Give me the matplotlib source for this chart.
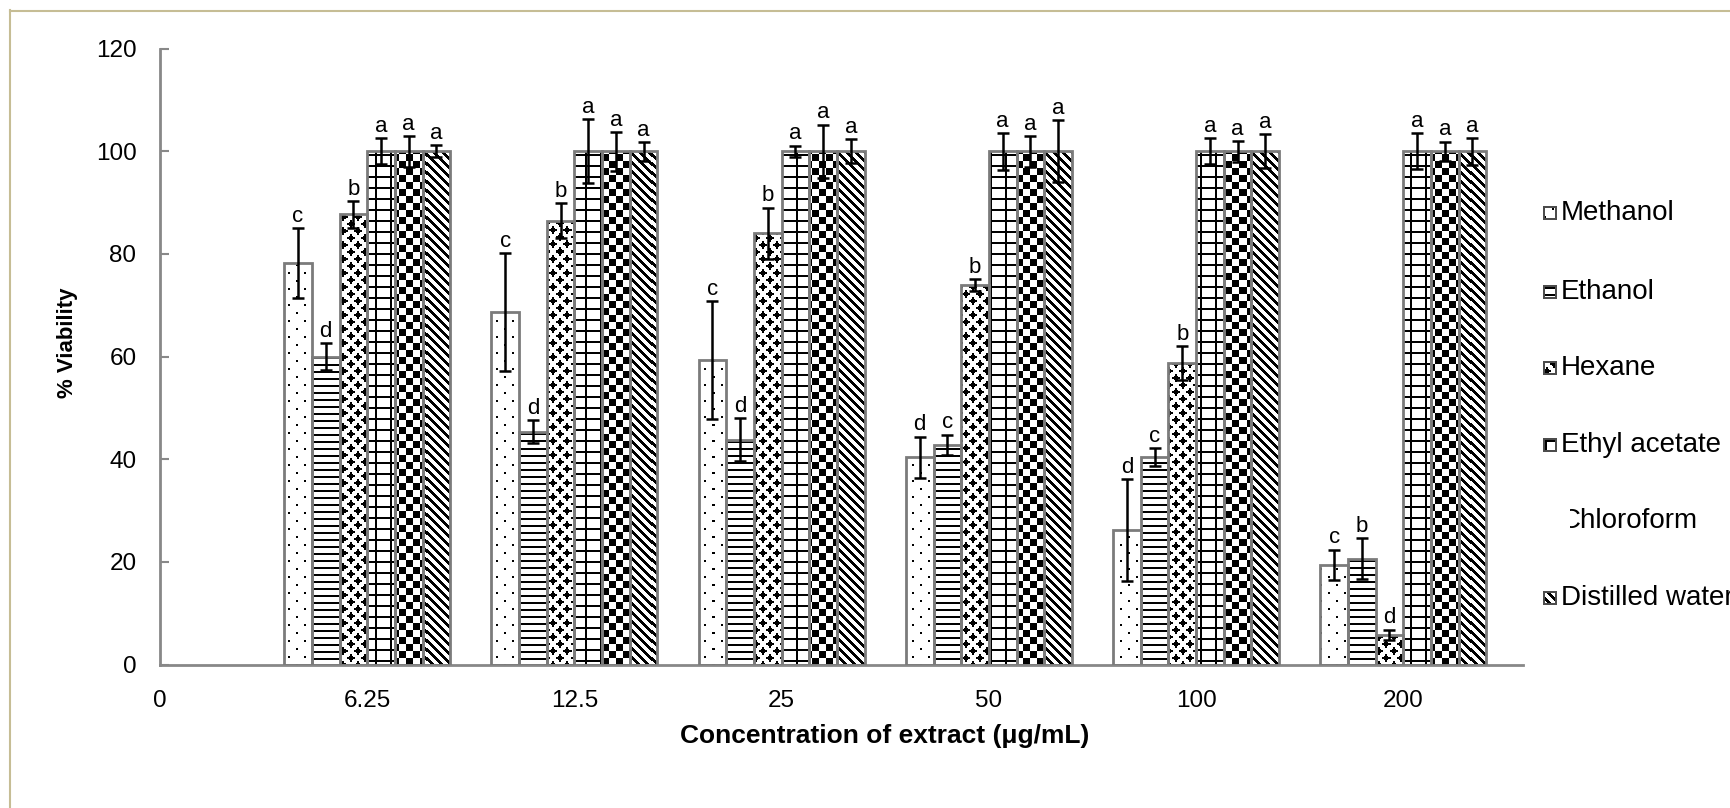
import numpy as np
import matplotlib
matplotlib.use("Agg")
import matplotlib.pyplot as plt
from matplotlib.lines import Line2D
from matplotlib.patches import Rectangle

plt.rcParams['font.family'] = ['Liberation Sans', 'DejaVu Sans']

W, H, DPI = 1731, 808, 100

# ---- data -------------------------------------------------------------
concentrations = ["0", "6.25", "12.5", "25", "50", "100", "200"]
solvents = ["Methanol", "Ethanol", "Hexane", "Ethyl acetate",
            "Chloroform", "Distilled water"]

methanol = [78.2, 68.7, 59.3, 40.4, 26.2, 19.4]
methanol_sd = [6.8, 11.5, 11.5, 4.0, 9.9, 3.0]
methanol_sig = ["c", "c", "c", "d", "d", "c"]

ethanol = [60.0, 45.4, 43.8, 42.8, 40.4, 20.6]
ethanol_sd = [2.6, 2.2, 4.2, 2.0, 1.8, 4.0]
ethanol_sig = ["d", "d", "d", "c", "c", "b"]

hexane = [87.7, 86.5, 84.0, 73.9, 58.8, 5.8]
hexane_sd = [2.6, 3.4, 5.0, 1.2, 3.3, 1.0]
hexane_sig = ["b", "b", "b", "b", "b", "d"]

ethyl_acetate = [100, 100, 100, 100, 100, 100]
ethyl_acetate_sd = [2.5, 6.2, 1.1, 3.6, 2.5, 3.5]
ethyl_acetate_sig = ["a", "a", "a", "a", "a", "a"]

chloroform = [100, 100, 100, 100, 100, 100]
chloroform_sd = [3.0, 3.8, 5.2, 3.0, 2.0, 1.9]
chloroform_sig = ["a", "a", "a", "a", "a", "a"]

water = [100, 100, 100, 100, 100, 100]
water_sd = [1.2, 1.8, 2.3, 6.0, 3.3, 2.6]
water_sig = ["a", "a", "a", "a", "a", "a"]

series_values = [methanol, ethanol, hexane, ethyl_acetate, chloroform, water]
series_sd = [methanol_sd, ethanol_sd, hexane_sd, ethyl_acetate_sd,
             chloroform_sd, water_sd]
series_sig = [methanol_sig, ethanol_sig, hexane_sig, ethyl_acetate_sig,
              chloroform_sig, water_sig]


# ---- fill textures (pixel based, c = column, r = row from top) ---------
def tex_dots(c, r):
    a = ((c % 16) < 2) & ((r % 16) < 2)
    b = (((c + 8) % 16) < 2) & (((r + 8) % 16) < 2)
    return a | b


def tex_hlines(c, r):
    return (r % 7) < 2


def _blob(dx, dy, rad=5.0):
    return (np.abs(dx) ** 0.7 + np.abs(dy) ** 0.7) <= rad ** 0.7


def tex_stars(c, r):
    p = 14
    dx1 = ((c + p // 2) % p) - p / 2 + 0.5
    dy1 = ((r + p // 2) % p) - p / 2 + 0.5
    dx2 = (c % p) - p / 2 + 0.5
    dy2 = (r % p) - p / 2 + 0.5
    return _blob(dx1, dy1) | _blob(dx2, dy2)


def tex_grid(c, r):
    return ((c % 15) < 2) | ((r % 11) < 2)


def tex_checker(c, r):
    return ((c // 7) + (r // 7)) % 2 == 0


def tex_diag(c, r):
    return ((c - r) % 9) < 4


textures = [tex_dots, tex_hlines, tex_stars, tex_grid, tex_checker, tex_diag]


def texture_rgb(func, cols, rows):
    C, R = np.meshgrid(cols, rows)
    ink = func(C, R)
    img = np.ones(ink.shape + (3,))
    img[ink] = 0.0
    return img


# ---- figure -----------------------------------------------------------
fig = plt.figure(figsize=(W / DPI, H / DPI), dpi=DPI)
ax_left, ax_right, ax_top, ax_bottom = 160, 1523.5, 48.6, 664.6
ax = fig.add_axes([ax_left / W, 1 - ax_bottom / H,
                   (ax_right - ax_left) / W, (ax_bottom - ax_top) / H])
XMAX = 6.58
ax.set_xlim(0, XMAX)
ax.set_ylim(0, 120)

n_series = len(series_values)
bar_w = 0.1335
group_x = np.arange(1, len(concentrations))

edge_gray = "#7b7b7b"
to_data = ax.transData.inverted()

for i, (vals, sds, sigs, tex) in enumerate(zip(series_values, series_sd,
                                                 series_sig, textures)):
    xs = group_x + (i - (n_series - 1) / 2) * bar_w
    bars = ax.bar(xs, vals, width=bar_w, color="white", edgecolor="none",
                  zorder=1)
    for rect in bars:
        x0, y0 = rect.get_x(), rect.get_y()
        x1, y1 = x0 + rect.get_width(), y0 + rect.get_height()
        (dx0, dy0), (dx1, dy1) = ax.transData.transform([(x0, y0), (x1, y1)])
        c0, c1 = int(np.floor(dx0)), int(np.ceil(dx1))
        r0, r1 = int(np.floor(H - dy1)), int(np.ceil(H - dy0))
        cols = np.arange(c0, c1)
        rows = np.arange(r0, r1)
        img = texture_rgb(tex, cols, rows)
        (ex0, ey1), (ex1, ey0) = to_data.transform([(c0, H - r0),
                                                   (c1, H - r1)])
        im = ax.imshow(img, extent=(ex0, ex1, ey0, ey1), origin="upper",
                       interpolation="nearest", aspect="auto", zorder=2)
        im.set_clip_path(rect)
    ax.bar(xs, vals, width=bar_w, facecolor="none", edgecolor=edge_gray,
           linewidth=2.0, zorder=3)
    ax.errorbar(xs, vals, yerr=sds, fmt="none", ecolor="black",
                elinewidth=1.8, capsize=4, capthick=1.8, zorder=4)
    for x, v, s, lab in zip(xs, vals, sds, sigs):
        ax.annotate(lab, (x, v + s), xytext=(0, 4.5),
                    textcoords="offset points", ha="center", va="baseline",
                    fontsize=16, color="black", zorder=5)

ax.set_xlim(0, XMAX)
ax.set_ylim(0, 120)

# ---- axes styling -----------------------------------------------------
axis_gray = "#888888"
for side in ("top", "right"):
    ax.spines[side].set_visible(False)
for side in ("left", "bottom"):
    ax.spines[side].set_color(axis_gray)
    ax.spines[side].set_linewidth(2.0)

ax.set_yticks(np.arange(0, 121, 20))
ax.tick_params(axis="y", direction="in", length=6.5, width=1.5,
               color=axis_gray, labelsize=17.5, pad=17)
ax.set_xticks(range(len(concentrations)))
ax.set_xticklabels(concentrations)
ax.tick_params(axis="x", length=0, labelsize=17.5, pad=18)

fig.text(885 / W, 1 - 736 / H, "Concentration of extract (\u03bcg/mL)",
         ha="center", va="center", fontsize=19, fontweight="bold")
fig.text(68 / W, 1 - 343 / H, "% Viability", ha="center", va="center",
         rotation=90, fontsize=16, fontweight="bold")

# ---- legend -----------------------------------------------------------
legend_rows = [213, 292, 368, 445, 521, 598]
key_x0, key_size = 1543, 14
text_x = 1561
for i, (name, tex, row) in enumerate(zip(solvents, textures, legend_rows)):
    fig.text(text_x / W, 1 - row / H, name, ha="left", va="center",
             fontsize=20, color="black")
    if name == "Chloroform":
        fig.add_artist(Rectangle(((key_x0 + 10) / W, 1 - (row + 18) / H),
                                 (text_x + 9 - key_x0 - 10) / W, 36 / H,
                                 transform=fig.transFigure,
                                 facecolor="white", edgecolor="none",
                                 zorder=10))
        continue
    top = row - key_size // 2
    cols = np.arange(key_x0, key_x0 + key_size)
    rows = np.arange(top, top + key_size)
    key = texture_rgb(tex, cols, rows)
    key[:2, :] = 0.3
    key[-2:, :] = 0.3
    key[:, :2] = 0.3
    key[:, -2:] = 0.3
    fig.figimage(key, xo=key_x0, yo=H - (top + key_size), origin="upper",
                 zorder=10)

# ---- outer frame ------------------------------------------------------
frame_color = "#c6bd95"
fig.add_artist(Line2D([10 / W, 1], [1 - 10.5 / H, 1 - 10.5 / H],
                      transform=fig.transFigure, color=frame_color, lw=1.5))
fig.add_artist(Line2D([10.5 / W, 10.5 / W], [0, 1 - 10 / H],
                      transform=fig.transFigure, color=frame_color, lw=1.5))

fig.savefig("out.png", dpi=DPI, facecolor="white")
